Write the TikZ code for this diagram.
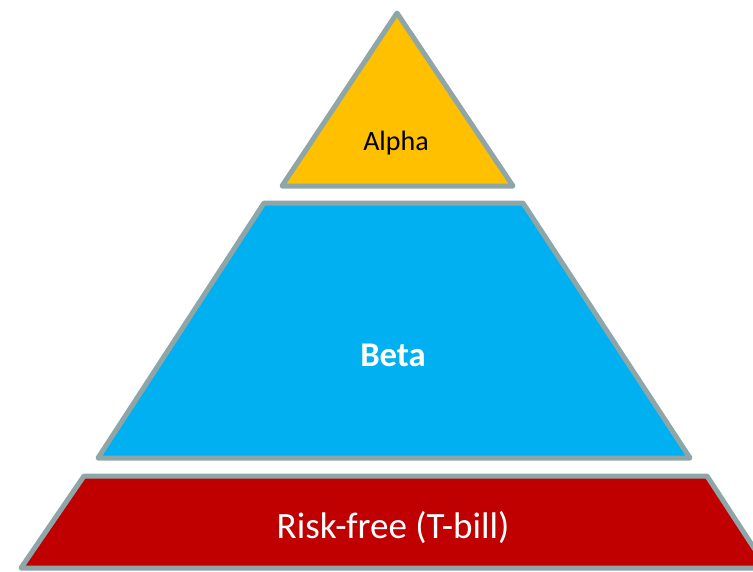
\documentclass[tikz,border=0pt]{standalone}
\usepackage{fontspec}
\setmainfont{Carlito}
\usepackage{tikz}

\definecolor{alphaYellow}{RGB}{255,192,0}
\definecolor{betaBlue}{RGB}{0,176,240}
\definecolor{riskRed}{RGB}{192,0,0}
\definecolor{edgeGray}{RGB}{143,166,168}

\tikzset{
  layer/.style={draw=edgeGray,line width=3.75pt,line join=round},
}

\begin{document}
\begin{tikzpicture}[x=0.75pt,y=-0.75pt]
    \useasboundingbox (0,0) rectangle (753,571);
    \clip (0,0) rectangle (753,571);

    % top
    \filldraw[layer,fill=alphaYellow] (397,13) -- (513,186) -- (282,186) -- cycle;
    \node (alpha) at (396,143) {\fontsize{21pt}{24pt}\selectfont Alpha};

    % middle
    \filldraw[layer,fill=betaBlue] (264,203) -- (523,203) -- (690,458) -- (98,458) -- cycle;
    \node[text=white] (beta) at (393,355) {\fontsize{26pt}{30pt}\selectfont\bfseries Beta};

    % bottom
    \filldraw[layer,fill=riskRed] (84,476) -- (707,476) -- (767,568) -- (21,568) -- cycle;
    \node[text=white] (riskfree) at (393,528) {\fontsize{27.8pt}{32pt}\selectfont Risk-free (T-bill)};
\end{tikzpicture}
\end{document}
